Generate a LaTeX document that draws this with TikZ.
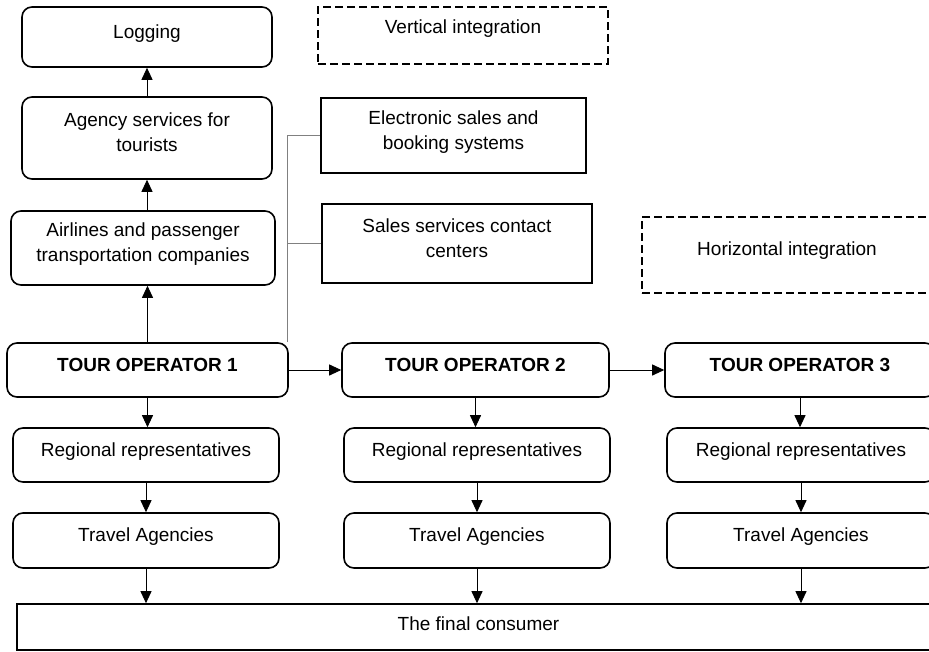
\documentclass[tikz,border=0pt]{standalone}
\usepackage{fontspec}
\setmainfont{Liberation Sans}
\usetikzlibrary{arrows.meta}

\begin{document}
\begin{tikzpicture}[x=1pt,y=-1pt,
    >={Triangle[length=12pt,width=11pt]},
    box/.style={draw=black, line width=1.6pt, rounded corners=10pt, align=center,
        font=\fontsize{19}{25}\selectfont, inner sep=2pt, text depth=11pt},
    plainbox/.style={box, rounded corners=0pt},
    dashbox/.style={box, rounded corners=0pt, line width=1.8pt, dash pattern=on 8pt off 4pt},
    link/.style={line width=0.9pt, ->},
    feed/.style={draw=gray, line width=1pt}]
    \useasboundingbox (0,0) rectangle (929,651);

    % Vertical chain above the first operator
    \node[box, minimum width=250pt, minimum height=60pt] (logging) at (147,37) {Logging};
    \node[box, minimum width=250pt, minimum height=82pt] (agency) at (147,138) {Agency services for\\tourists};
    \node[box, minimum width=264pt, minimum height=74pt] (airlines) at (143,248) {Airlines and passenger\\transportation companies};

    % Sales channels and integration labels
    \node[dashbox, minimum width=290pt, minimum height=57pt, text depth=18pt] (vertint) at (463,35.5) {Vertical integration};
    \node[plainbox, minimum width=265pt, minimum height=75pt] (elec) at (453.5,135.5) {Electronic sales and\\booking systems};
    \node[plainbox, minimum width=270pt, minimum height=79pt] (sales) at (457,243.5) {Sales services contact\\centers};
    \node[dashbox, minimum width=290pt, minimum height=76pt, text depth=12pt] (horint) at (787,255) {Horizontal integration};

    % Tour operators and their distribution
    \foreach \i/\x/\w in {1/147.5/281, 2/475.5/267, 3/800/270} {
        \node[box, minimum width=\w pt, minimum height=54pt, font=\fontsize{19}{25}\selectfont\bfseries] (to\i) at (\x,370) {TOUR OPERATOR \i};
    }
    \foreach \i/\x/\w in {1/146/266, 2/477/266, 3/801/268} {
        \node[box, minimum width=\w pt, minimum height=54pt] (reg\i) at (\x,455) {Regional representatives};
        \node[box, minimum width=\w pt, minimum height=55pt] (ta\i) at (\x,540.5) {Travel Agencies};
    }
    \node[plainbox, minimum width=923pt, minimum height=46pt, text depth=6pt] (final) at (478.5,627) {The final consumer};

    % Draw edges
    \draw[link] (agency.north) -- (logging.south);
    \draw[link] (agency.south |- airlines.north) -- (agency.south);
    \draw[link] (to1.north) -- (to1.north |- airlines.south);
    \draw[link] (to1) -- (to2);
    \draw[link] (to2) -- (to3);
    \foreach \i in {1,2,3} {
        \draw[link] (to\i.south) -- (to\i.south |- reg\i.north);
        \draw[link] (reg\i.south) -- (reg\i.south |- ta\i.north);
        \draw[link] (ta\i.south) -- (ta\i.south |- final.north);
    }
    \draw[feed] ([xshift=-1pt]to1.north east) |- (elec.west);
    \draw[feed] ([xshift=-1pt]to1.north east |- sales.west) -- (sales.west);
\end{tikzpicture}
\end{document}
